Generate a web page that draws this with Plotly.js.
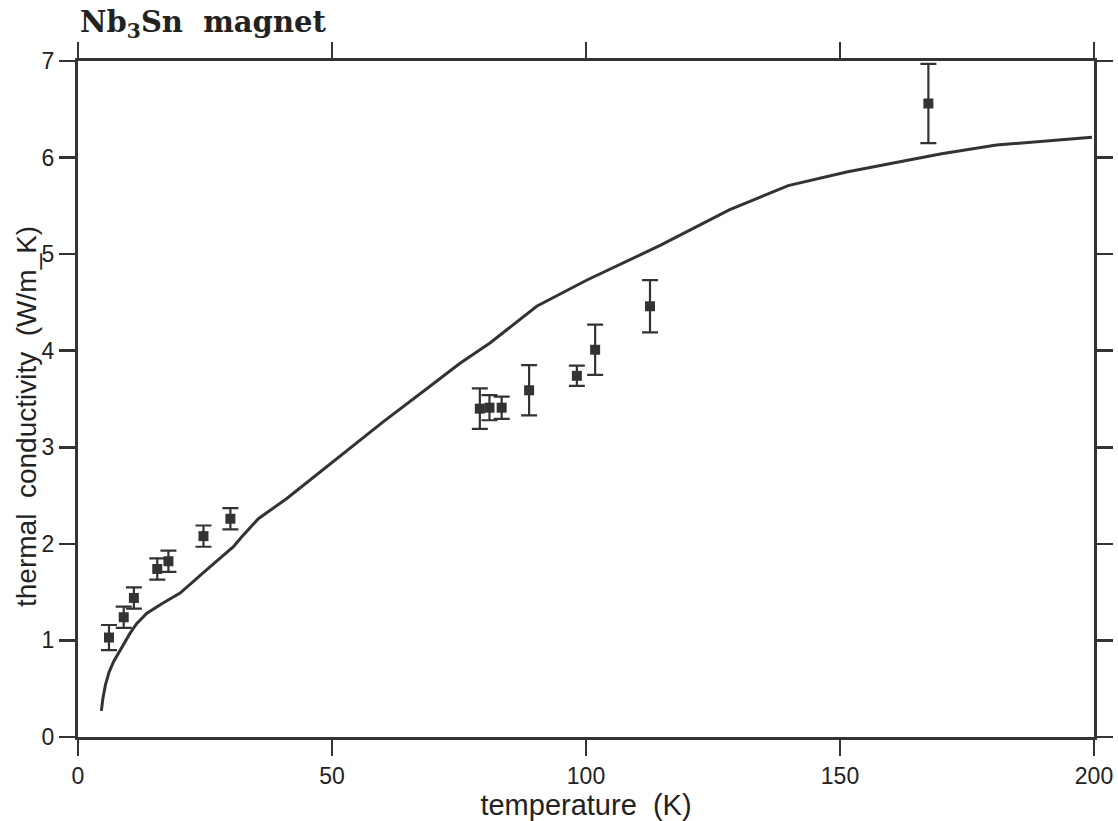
<!DOCTYPE html>
<html>
<head>
<meta charset="utf-8">
<script src="https://cdn.plot.ly/plotly-3.0.1.min.js"></script>
<style>html,body{margin:0;padding:0;background:#fff;}#chart{width:1118px;height:821px;}</style>
</head>
<body>
<div id="chart"></div>
<script>
// Model curve (temperature K, conductivity W/m_K)
const curveT = [4.6, 4.9, 5.4, 6.1, 7.0, 8.0, 9.0, 10.2, 11.5, 13.5, 16.5, 20.1, 25.3, 30.6, 32.2, 35.5, 41.1, 45.7, 50, 60, 70, 75.2, 81.1, 90.3, 100.1, 114.6, 128.3, 139.8, 151.3, 161.5, 170, 180.8, 190, 199.6];
const curveK = [0.27, 0.40, 0.54, 0.67, 0.78, 0.87, 0.97, 1.07, 1.17, 1.28, 1.38, 1.49, 1.73, 1.97, 2.07, 2.26, 2.47, 2.66, 2.84, 3.26, 3.66, 3.87, 4.08, 4.46, 4.73, 5.09, 5.46, 5.71, 5.85, 5.95, 6.04, 6.13, 6.17, 6.21];

// Measured points with error bars
const measT = [6.1, 9.0, 11.0, 15.6, 17.8, 24.7, 30.0, 79.1, 81.0, 83.4, 88.8, 98.2, 101.8, 112.6, 167.4];
const measK = [1.03, 1.24, 1.44, 1.74, 1.82, 2.08, 2.26, 3.40, 3.41, 3.41, 3.59, 3.74, 4.01, 4.46, 6.56];
const measErr = [0.13, 0.11, 0.11, 0.11, 0.11, 0.11, 0.11, 0.21, 0.13, 0.115, 0.26, 0.105, 0.26, 0.27, 0.41];

const xTicks = [0, 50, 100, 150, 200];
const yTicks = [0, 1, 2, 3, 4, 5, 6, 7];

const ink = '#333333';
const labelFont = 'Liberation Sans, Arial, sans-serif';

const traces = [
  {
    x: curveT, y: curveK, mode: 'lines', type: 'scatter',
    line: {color: ink, width: 3}, hoverinfo: 'skip', showlegend: false
  },
  {
    x: measT, y: measK, mode: 'markers', type: 'scatter',
    marker: {symbol: 'square', size: 10, color: ink},
    error_y: {type: 'data', array: measErr, visible: true, color: ink, thickness: 2.2, width: 8},
    showlegend: false
  }
];

const axisCommon = {
  showline: true, linecolor: ink, linewidth: 3, mirror: 'ticks',
  ticks: 'outside', ticklen: 16, tickwidth: 2.5, tickcolor: ink,
  showgrid: false, zeroline: false,
  tickfont: {family: labelFont, size: 23, color: '#222'}
};

const layout = {
  width: 1118, height: 821,
  paper_bgcolor: '#fff', plot_bgcolor: '#fff',
  margin: {l: 78, r: 24, t: 61, b: 84},
  title: {
    text: 'Nb<sub>3</sub>Sn\u00a0\u00a0magnet',
    font: {family: 'DejaVu Serif, serif', size: 29, color: '#222', weight: 'bold'},
    x: 80 / 1118, xanchor: 'left', xref: 'container',
    y: 1 - 22 / 821, yanchor: 'middle', yref: 'container'
  },
  xaxis: Object.assign({}, axisCommon, {
    range: [0, 200], tickvals: xTicks, ticktext: xTicks.map(String),
    title: {text: 'temperature\u00a0\u00a0(K)', font: {family: labelFont, size: 29, color: '#222'}, standoff: 0}
  }),
  yaxis: Object.assign({}, axisCommon, {
    range: [0, 7], tickvals: yTicks, ticktext: yTicks.map(String)
  }),
  annotations: [{
    text: 'thermal\u00a0\u00a0conductivity\u00a0\u00a0(W/m_K)',
    textangle: -90, showarrow: false,
    xref: 'paper', yref: 'paper',
    x: (26 - 78) / 1016, y: (737 - 417) / 676,
    xanchor: 'center', yanchor: 'middle',
    font: {family: labelFont, size: 28, color: '#222'}
  }]
};

Plotly.newPlot('chart', traces, layout, {displayModeBar: false, staticPlot: true});
</script>
</body>
</html>
